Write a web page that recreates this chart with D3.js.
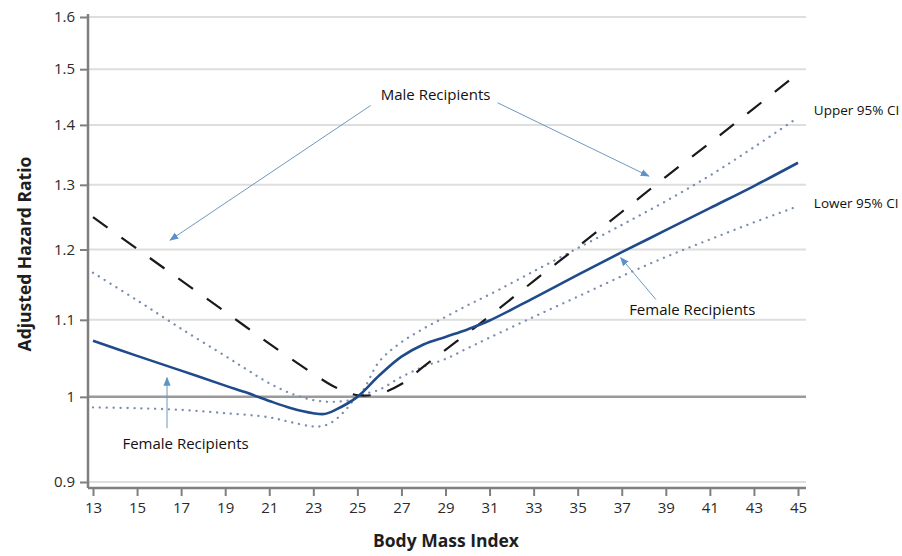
<!DOCTYPE html>
<html>
<head>
<meta charset="utf-8">
<script src="https://cdn.jsdelivr.net/npm/d3@7/dist/d3.min.js"></script>
<style>
  html, body { margin: 0; padding: 0; background: #fff; }
  svg { display: block; }
</style>
</head>
<body>
<svg id="chart" width="902" height="556"></svg>
<script>
// BMI values and adjusted hazard ratios (reference BMI 25)
const maleBmi = [13, 15, 17, 19, 21, 23, 24, 25, 26, 27, 28, 29, 30, 31, 33, 35, 37, 39, 41, 43, 45];
const maleHR  = [1.249, 1.201, 1.155, 1.111, 1.068, 1.029, 1.012, 1.002, 1.004, 1.016, 1.038, 1.060, 1.082, 1.105, 1.154, 1.204, 1.257, 1.313, 1.369, 1.429, 1.492];

const femaleBmi = [13, 15, 17, 19, 20, 21, 22, 23, 23.5, 24, 25, 26, 27, 28, 29, 30, 31, 33, 35, 37, 39, 41, 43, 45];
const femaleHR  = [1.072, 1.052, 1.033, 1.014, 1.005, 0.995, 0.986, 0.980, 0.979, 0.984, 1.000, 1.027, 1.051, 1.067, 1.077, 1.087, 1.099, 1.130, 1.163, 1.196, 1.229, 1.263, 1.298, 1.336];

const upperBmi = [13, 15, 17, 19, 20, 21, 22, 23, 24, 25, 26, 27, 28, 29, 30, 31, 33, 35, 37, 39, 41, 43, 45];
const upperHR  = [1.166, 1.127, 1.088, 1.052, 1.034, 1.017, 1.004, 0.996, 0.994, 1.000, 1.045, 1.070, 1.088, 1.104, 1.120, 1.135, 1.168, 1.202, 1.237, 1.274, 1.315, 1.362, 1.413];

const lowerBmi = [13, 15, 17, 19, 21, 22, 23, 23.5, 24, 24.5, 25, 26, 27, 28, 29, 30, 31, 33, 35, 37, 39, 41, 43, 45];
const lowerHR  = [0.987, 0.986, 0.984, 0.980, 0.975, 0.969, 0.964, 0.965, 0.972, 0.985, 1.000, 1.009, 1.025, 1.038, 1.048, 1.062, 1.076, 1.104, 1.132, 1.161, 1.189, 1.215, 1.241, 1.266];

const xTicks = [13, 15, 17, 19, 21, 23, 25, 27, 29, 31, 33, 35, 37, 39, 41, 43, 45];
const yTicks = [0.9, 1, 1.1, 1.2, 1.3, 1.4, 1.5, 1.6];
const yTickLabels = ["0.9", "1", "1.1", "1.2", "1.3", "1.4", "1.5", "1.6"];

// Annotations: label text with its anchor, and pointer lines (from -> to) in data units
const labelText = ["Male Recipients", "Female Recipients", "Female Recipients", "Upper 95% CI", "Lower 95% CI"];
const labelBmi  = [28.55, 17.2, 40.2, 45.72, 45.72];
const labelHR   = [1.454, 0.944, 1.114, 1.425, 1.270];
const labelAnchor = ["middle", "middle", "middle", "start", "start"];

const pointerFromBmi = [25.6, 31.36, 16.36, 38.55];
const pointerFromHR  = [1.434, 1.439, 0.962, 1.128];
const pointerToBmi   = [16.5, 38.23, 16.36, 36.95];
const pointerToHR    = [1.214, 1.314, 1.024, 1.188];

const svg = d3.select("#chart");
const plot = { left: 88, right: 806, top: 14, bottom: 488 };

const x = d3.scaleLinear().domain([13, 45]).range([93, 798]);
const y = d3.scaleLog().domain([0.9, 1.6]).range([482, 17]);

const axisColor = "#7f7f7f";
const textColor = "#2b2b2b";
const font = "'Open Sans', 'DejaVu Sans', sans-serif";

// Gridlines
svg.append("g")
  .selectAll("line")
  .data(yTicks.filter(v => v !== 1))
  .join("line")
  .attr("x1", plot.left).attr("x2", plot.right)
  .attr("y1", d => y(d)).attr("y2", d => y(d))
  .attr("stroke", "#dedede").attr("stroke-width", 2);

// Reference line at HR = 1
svg.append("line")
  .attr("x1", plot.left).attr("x2", plot.right)
  .attr("y1", y(1)).attr("y2", y(1))
  .attr("stroke", "#9a9a9a").attr("stroke-width", 2.5);

// Axes
const xAxis = svg.append("g")
  .attr("transform", `translate(0,${plot.bottom})`)
  .call(d3.axisBottom(x).tickValues(xTicks).tickFormat(d3.format("d")).tickSize(8).tickSizeOuter(0).tickPadding(6));
const yAxis = svg.append("g")
  .attr("transform", `translate(${plot.left},0)`)
  .call(d3.axisLeft(y).tickValues(yTicks).tickFormat((d, i) => yTickLabels[i]).tickSize(8).tickSizeOuter(0).tickPadding(5));

[xAxis, yAxis].forEach(g => {
  g.select(".domain").remove();
  g.selectAll(".tick line").attr("stroke", axisColor).attr("stroke-width", 2);
  g.selectAll(".tick text")
    .attr("fill", textColor)
    .style("font-family", font)
    .style("font-size", "15px");
});

// Axis spines
svg.append("line")
  .attr("x1", plot.left).attr("x2", plot.left)
  .attr("y1", plot.top).attr("y2", plot.bottom)
  .attr("stroke", axisColor).attr("stroke-width", 2.5);
svg.append("line")
  .attr("x1", plot.left).attr("x2", plot.right)
  .attr("y1", plot.bottom).attr("y2", plot.bottom)
  .attr("stroke", axisColor).attr("stroke-width", 2.5);

// Axis titles
svg.append("text")
  .attr("x", 446).attr("y", 547)
  .attr("text-anchor", "middle")
  .attr("fill", "#1e1e1e")
  .style("font-family", font)
  .style("font-size", "17.5px").style("font-weight", "bold")
  .text("Body Mass Index");
svg.append("text")
  .attr("transform", `translate(31,${(plot.top + plot.bottom) / 2 + 3}) rotate(-90)`)
  .attr("text-anchor", "middle")
  .attr("fill", "#1e1e1e")
  .style("font-family", font)
  .style("font-size", "17.5px").style("font-weight", "bold")
  .text("Adjusted Hazard Ratio");

// Curves
const line = d3.line()
  .x(d => x(d[0]))
  .y(d => y(d[1]))
  .curve(d3.curveCatmullRom.alpha(0.5));
const zip = (a, b) => a.map((v, i) => [v, b[i]]);

const series = [
  { pts: zip(upperBmi, upperHR), stroke: "#7b8db0", width: 2.3, dash: "0.1,6.8", cap: "round" },
  { pts: zip(lowerBmi, lowerHR), stroke: "#7b8db0", width: 2.3, dash: "0.1,6.8", cap: "round" },
  { pts: zip(maleBmi, maleHR), stroke: "#1a1a1a", width: 2.2, dash: "18,17", cap: "butt" },
  { pts: zip(femaleBmi, femaleHR), stroke: "#1f4b8a", width: 2.6, dash: null, cap: "butt" }
];
svg.append("g")
  .selectAll("path")
  .data(series)
  .join("path")
  .attr("d", d => line(d.pts))
  .attr("fill", "none")
  .attr("stroke", d => d.stroke)
  .attr("stroke-width", d => d.width)
  .attr("stroke-dasharray", d => d.dash)
  .attr("stroke-linecap", d => d.cap);

// Pointer arrows
svg.append("defs").append("marker")
  .attr("id", "arrowhead")
  .attr("viewBox", "0 0 10 10")
  .attr("refX", 9).attr("refY", 5)
  .attr("markerWidth", 9).attr("markerHeight", 9)
  .attr("markerUnits", "userSpaceOnUse")
  .attr("orient", "auto")
  .append("path")
  .attr("d", "M0,1 L10,5 L0,9 Z")
  .attr("fill", "#5b93c8");

svg.append("g")
  .selectAll("line")
  .data(pointerFromBmi.map((b, i) => i))
  .join("line")
  .attr("x1", i => x(pointerFromBmi[i]))
  .attr("y1", i => y(pointerFromHR[i]))
  .attr("x2", i => x(pointerToBmi[i]))
  .attr("y2", i => y(pointerToHR[i]))
  .attr("stroke", "#6f98bf").attr("stroke-width", 1)
  .attr("marker-end", "url(#arrowhead)");

// Labels
svg.append("g")
  .selectAll("text")
  .data(labelText.map((t, i) => i))
  .join("text")
  .attr("x", i => x(labelBmi[i]))
  .attr("y", i => y(labelHR[i]))
  .attr("dy", "0.35em")
  .attr("text-anchor", i => labelAnchor[i])
  .attr("fill", "#111")
  .style("font-family", font)
  .style("font-size", i => i >= 3 ? "13.5px" : "15px")
  .text(i => labelText[i]);
</script>
</body>
</html>
